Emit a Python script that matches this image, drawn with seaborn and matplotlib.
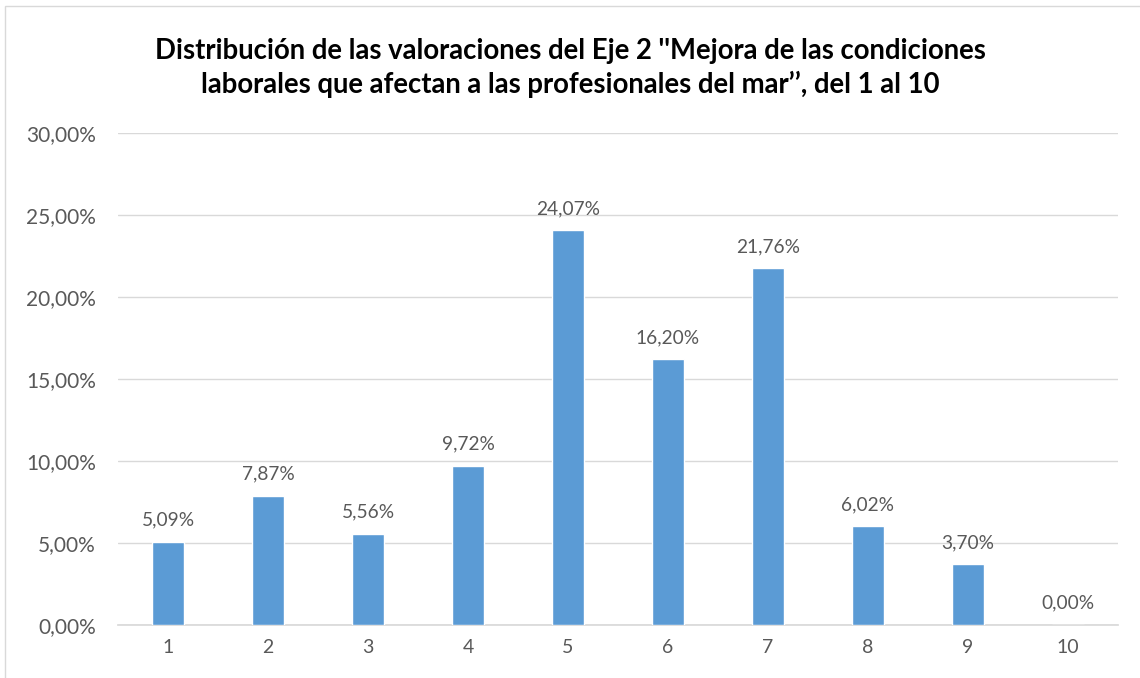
import matplotlib
matplotlib.use("Agg")
import matplotlib.pyplot as plt
import seaborn as sns
import pandas as pd
from matplotlib.patches import Rectangle

categories = ["1", "2", "3", "4", "5", "6", "7", "8", "9", "10"]
values = [5.09, 7.87, 5.56, 9.72, 24.07, 16.20, 21.76, 6.02, 3.70, 0.00]
yticks = [0, 5, 10, 15, 20, 25, 30]
title = ("Distribución de las valoraciones del Eje 2 ''Mejora de las condiciones\n"
         "laborales que afectan a las profesionales del mar’’, del 1 al 10")

sns.set_theme(style="white")
plt.rcParams['font.family'] = ['Lato', 'DejaVu Sans']

df = pd.DataFrame({"cat": categories, "val": values})

fig = plt.figure(figsize=(11.4, 6.78), dpi=100)
ax = fig.add_axes([0.1035, 0.0782, 0.8772, 0.7256])

sns.barplot(data=df, x="cat", y="val", color="#5B9BD5", width=0.32,
            saturation=1, ax=ax, zorder=3)

grey = "#595959"
for i, v in enumerate(values):
    ax.text(i, v + 0.8, f"{v:.2f}%".replace(".", ","), ha="center", va="bottom",
            fontsize=13.8, color=grey)

ax.set_ylim(0, 30)
ax.set_xlim(-0.5, len(categories) - 0.5)
ax.set_yticks(yticks)
ax.set_yticklabels([f"{t:.2f}%".replace(".", ",") for t in yticks], fontsize=15, color=grey)
ax.tick_params(axis="x", labelsize=14, colors=grey, length=0, pad=10)
ax.tick_params(axis="y", length=0, pad=16)
ax.grid(axis="y", color="#D9D9D9", linewidth=1, zorder=0)
ax.set_axisbelow(True)
for s in ["top", "right", "left"]:
    ax.spines[s].set_visible(False)
ax.spines["bottom"].set_color("#D9D9D9")
ax.set_xlabel("")
ax.set_ylabel("")

fig.text(0.5, 0.9, title, ha="center", va="center", fontsize=19.8,
         fontweight="bold", color="black", linespacing=1.3)

fig.patches.append(Rectangle((5 / 1140, -0.1), 1.2, 1 - 6 / 678 + 0.1,
                             transform=fig.transFigure, fill=False,
                             edgecolor="#D9D9D9", linewidth=1))

fig.savefig("out.png", dpi=100)
